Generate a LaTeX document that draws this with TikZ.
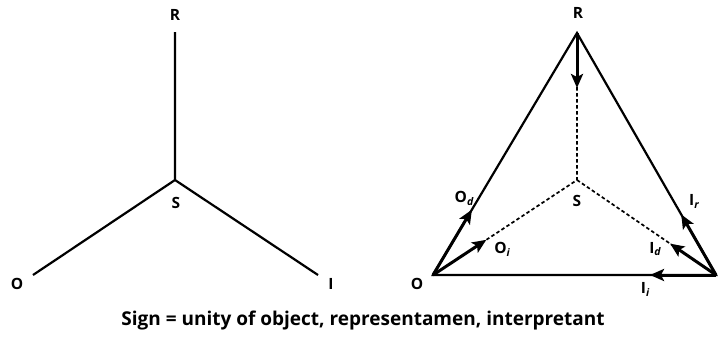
\documentclass[tikz,border=0pt]{standalone}
\usepackage{fontspec}
\setmainfont{Open Sans}
\usetikzlibrary{arrows.meta,calc}
\tikzset{
  lbl/.style={font=\fontsize{15.5}{15.5}\selectfont\bfseries, inner sep=0pt},
  edge/.style={line width=2.2pt},
  dashline/.style={line width=1.7pt, dash pattern=on 3.5pt off 2.5pt},
  arr/.style={line width=3pt, -{Stealth[length=14pt,width=12pt,inset=3pt]}},
}
\newcommand{\mysub}[2]{#1\raisebox{-0.35ex}{\fontsize{10.5}{10.5}\selectfont\itshape #2}}
\begin{document}
\begin{tikzpicture}[x=1pt,y=-1pt]
\useasboundingbox (0,0) rectangle (726,356);
% left figure
\coordinate (lR) at (175,32);
\coordinate (lS) at (175,180);
\coordinate (lO) at (33,275);
\coordinate (lI) at (318,275);
\draw[edge] (lR) -- (lS) -- (lO);
\draw[edge] (lS) -- (lI);
\node[lbl] (tlR) at (175,15) {R};
\node[lbl] (tlS) at (176,203) {S};
\node[lbl] (tlO) at (17,284) {O};
\node[lbl] (tlI) at (331,284) {I};
% right figure
\coordinate (R) at (577,33);
\coordinate (S) at (577,180);
\coordinate (O) at (433,275);
\coordinate (I) at (716,275);
\draw[edge, line join=miter] (O) -- (R) -- (I) -- cycle;
\draw[dashline] (R) -- (S) -- (O);
\draw[dashline] (S) -- (I);
\coordinate (aR) at (577,88);
\coordinate (aOd) at ($(O)!0.27!(R)$);
\coordinate (aOi) at ($(O)!0.37!(S)$);
\coordinate (aIr) at ($(I)!0.25!(R)$);
\coordinate (aId) at ($(I)!0.33!(S)$);
\coordinate (aIi) at (650,275);
\draw[arr] (R) -- (aR);
\draw[arr] (O) -- (aOd);
\draw[arr] (O) -- (aOi);
\draw[arr] (I) -- (aIr);
\draw[arr] (I) -- (aId);
\draw[arr] (I) -- (aIi);
\node[lbl] (tR) at (578,13) {R};
\node[lbl] (tS) at (577,201) {S};
\node[lbl] (tO) at (417,284) {O};
\node[lbl] (tOd) at (464,198) {\mysub{O}{d}};
\node[lbl] (tOi) at (502,249) {\mysub{O}{i}};
\node[lbl] (tIr) at (694,201) {\mysub{I}{r}};
\node[lbl] (tId) at (655,249) {\mysub{I}{d}};
\node[lbl] (tIi) at (645,289) {\mysub{I}{i}};
% caption
\node[font=\fontsize{19}{19}\selectfont\bfseries, inner sep=0pt] (cap) at (363,321) {Sign = unity of object, representamen, interpretant};
\end{tikzpicture}
\end{document}
